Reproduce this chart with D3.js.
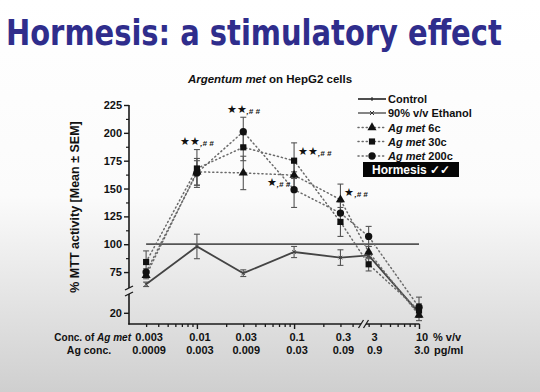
<!DOCTYPE html>
<html><head><meta charset="utf-8">
<script src="https://cdn.jsdelivr.net/npm/d3@7"></script>
<style>html,body{margin:0;padding:0;background:#fff}svg{display:block}</style>
</head><body>
<svg id="c" width="540" height="392"></svg>
<script>
// ---- data ----
const concAgMet = [0.003, 0.01, 0.03, 0.1, 0.3, 3, 10];
const concLabels1 = ["0.003", "0.01", "0.03", "0.1", "0.3", "3", "10"];
const concLabels2 = ["0.0009", "0.003", "0.009", "0.03", "0.09", "0.9", "3.0"];
const controlValues = [100, 100, 100, 100, 100, 100, 100];
const ethanolValues = [64, 98, 74, 93, 88, 90, 20];
const ethanolErr = [2, 11, 3, 5, 7, 3, 3];
const met6cValues = [72, 165, 164, 162, 140, 93, 18];
const met6cErr = [3, 12, 15, 12, 14, 5, 5];
const met30cValues = [84, 168, 187, 175, 120, 82, 22];
const met30cErr = [10, 17, 12, 16, 13, 6, 6];
const met200cValues = [75, 164, 201, 149, 128, 107, 25];
const met200cErr = [3, 11, 13, 16, 10, 9, 9];
const yTickValues = [20, 75, 100, 125, 150, 175, 200, 225];
const yMinorValues = [87.5, 112.5, 137.5, 162.5, 187.5, 212.5];
const sigConc = [0.01, 0.03, 0.1, 0.1, 0.3];
const sigLevel = [193, 221, 156, 184, 147];
const sigStars = ["★★", "★★", "★", "★★", "★"];
const sigSide = ["middle", "middle", "end", "start", "start"];

const svg = d3.select("#c");
const FONT = "'Liberation Sans', Arial, sans-serif";

// background
const defs = svg.append("defs");
const g0 = defs.append("linearGradient").attr("id", "bg").attr("x1", 0).attr("y1", 0).attr("x2", 0).attr("y2", 1);
g0.append("stop").attr("offset", "0").attr("stop-color", "#ffffff");
g0.append("stop").attr("offset", "0.5").attr("stop-color", "#fbfbfb");
g0.append("stop").attr("offset", "1").attr("stop-color", "#cfcfcf");
svg.append("rect").attr("width", 540).attr("height", 392).attr("fill", "url(#bg)");

// title (horizontally condensed to fit the reference width)
const titleG = svg.append("g");
const title = titleG.append("text").attr("x", 0).attr("y", 0)
  .attr("font-family", "'DejaVu Sans', Verdana, sans-serif").attr("font-weight", "bold")
  .attr("font-size", 36).attr("fill", "#2f2d8c")
  .text("Hormesis: a stimulatory effect");
const tw = title.node().getComputedTextLength();
titleG.attr("transform", `translate(6,45) scale(${496 / tw},1)`);

// chart title
const ct = svg.append("text").attr("x", 270).attr("y", 83).attr("text-anchor", "middle")
  .attr("font-family", FONT).attr("font-weight", "bold").attr("font-size", 11.5).attr("fill", "#111");
ct.append("tspan").attr("font-style", "italic").text("Argentum met");
ct.append("tspan").text(" on HepG2 cells");

// scales
const x = d3.scaleLog().domain([0.002, 0.5, 2.75, 10]).range([129, 362, 365, 419]);
const y = d3.scaleLinear().domain([10, 35, 58, 225]).range([324, 296, 291, 105]);

const axisColor = "#1a1a1a";
// y axis
const yAx = svg.append("g").attr("transform", "translate(129,0)")
  .call(d3.axisLeft(y).tickValues(yTickValues).tickSize(5).tickSizeOuter(0).tickFormat(d3.format("d")));
yAx.select(".domain").remove();
yAx.selectAll(".tick line").attr("stroke", axisColor).attr("stroke-width", 1.4);
yAx.selectAll(".tick text").attr("font-family", FONT).attr("font-weight", "bold").attr("font-size", 11).attr("fill", "#111").attr("x", -7);
const yMin = svg.append("g").attr("transform", "translate(129,0)")
  .call(d3.axisLeft(y).tickValues(yMinorValues).tickSize(3).tickFormat(""));
yMin.select(".domain").remove();
yMin.selectAll(".tick line").attr("stroke", axisColor).attr("stroke-width", 1.2);
svg.append("line").attr("x1", 129).attr("x2", 129).attr("y1", y(225)).attr("y2", 288).attr("stroke", axisColor).attr("stroke-width", 1.6);
svg.append("line").attr("x1", 129).attr("x2", 129).attr("y1", 294).attr("y2", 324.5).attr("stroke", axisColor).attr("stroke-width", 1.6);
[288, 294].forEach(v => svg.append("line").attr("x1", 125).attr("x2", 133).attr("y1", v + 2).attr("y2", v - 2).attr("stroke", axisColor).attr("stroke-width", 1.3));

// x axis
const xMajor = [0.01, 0.1, 10];
const xMinor = [];
[0.001, 0.01, 0.1].forEach(d => d3.range(2, 10).forEach(k => { const v = d * k; if (v > 0.0021 && v < 0.5) xMinor.push(v); }));
d3.range(3, 10).forEach(k => xMinor.push(k));
const xa1 = svg.append("g").attr("transform", "translate(0,324)")
  .call(d3.axisBottom(x).tickValues(xMinor).tickSize(3).tickFormat(""));
xa1.select(".domain").remove();
xa1.selectAll(".tick line").attr("stroke", axisColor).attr("stroke-width", 1.3);
const xa2 = svg.append("g").attr("transform", "translate(0,324)")
  .call(d3.axisBottom(x).tickValues(xMajor).tickSize(5).tickFormat(""));
xa2.select(".domain").remove();
xa2.selectAll(".tick line").attr("stroke", axisColor).attr("stroke-width", 1.4);
svg.append("line").attr("x1", 128.2).attr("x2", 361).attr("y1", 324).attr("y2", 324).attr("stroke", axisColor).attr("stroke-width", 1.6);
svg.append("line").attr("x1", 366).attr("x2", 419.5).attr("y1", 324).attr("y2", 324).attr("stroke", axisColor).attr("stroke-width", 1.6);
[361, 366].forEach(v => svg.append("line").attr("x1", v - 2.5).attr("x2", v + 2.5).attr("y1", 328).attr("y2", 320).attr("stroke", axisColor).attr("stroke-width", 1.3));

// x tick labels (two rows)
const lab = svg.append("g").attr("font-family", FONT).attr("font-weight", "bold").attr("font-size", 11).attr("fill", "#111");
concAgMet.forEach((c, i) => {
  const off = c === 3 ? 6 : 3;
  lab.append("text").attr("x", x(c) + off).attr("y", 341).attr("text-anchor", "middle").text(concLabels1[i]);
  lab.append("text").attr("x", x(c) + off).attr("y", 353.5).attr("text-anchor", "middle").text(concLabels2[i]);
});
const r1 = lab.append("text").attr("x", 131).attr("y", 341).attr("text-anchor", "end").attr("font-size", 10);
r1.append("tspan").text("Conc. of ");
r1.append("tspan").attr("font-style", "italic").text("Ag met");
lab.append("text").attr("x", 89).attr("y", 353.5).attr("text-anchor", "middle").attr("font-size", 10.5).text("Ag conc.");
lab.append("text").attr("x", 433).attr("y", 341).text("% v/v");
lab.append("text").attr("x", 434).attr("y", 353.5).text("pg/ml");

// y label
svg.append("text").attr("transform", "translate(79,207) rotate(-90)").attr("text-anchor", "middle")
  .attr("font-family", FONT).attr("font-weight", "bold").attr("font-size", 12.5).attr("fill", "#111")
  .text("% MTT activity [Mean ± SEM]");

// series
const series = [
  {name: "6c", vals: met6cValues, err: met6cErr, sym: d3.symbolTriangle, size: 36},
  {name: "30c", vals: met30cValues, err: met30cErr, sym: d3.symbolSquare, size: 38},
  {name: "200c", vals: met200cValues, err: met200cErr, sym: d3.symbolCircle, size: 42}
];
const plot = svg.append("g");
const errCol = "#555";
function errorBars(vals, err) {
  vals.forEach((v, i) => {
    const cx = x(concAgMet[i]), y1 = y(v - err[i]), y2 = y(v + err[i]);
    plot.append("line").attr("x1", cx).attr("x2", cx).attr("y1", y1).attr("y2", y2).attr("stroke", errCol).attr("stroke-width", 1.1);
    [y1, y2].forEach(yy => plot.append("line").attr("x1", cx - 3).attr("x2", cx + 3).attr("y1", yy).attr("y2", yy).attr("stroke", errCol).attr("stroke-width", 1.1));
  });
}
series.forEach(s => errorBars(s.vals, s.err));
errorBars(ethanolValues, ethanolErr);

const line = d3.line().x((d, i) => x(concAgMet[i])).y(d => y(d));
const dotted = "1.1,3";
// control
plot.append("path").datum(controlValues).attr("d", line).attr("fill", "none").attr("stroke", "#555").attr("stroke-width", 1.8);
// ethanol
plot.append("path").datum(ethanolValues).attr("d", line).attr("fill", "none").attr("stroke", "#444").attr("stroke-width", 1.8);
ethanolValues.forEach((v, i) => plot.append("path").attr("d", d3.symbol(d3.symbolX, 10)())
  .attr("transform", `translate(${x(concAgMet[i])},${y(v)})`).attr("stroke", "#444").attr("stroke-width", 1).attr("fill", "none"));
series.forEach(s => {
  plot.append("path").datum(s.vals).attr("d", line).attr("fill", "none").attr("stroke", "#6a6a6a")
    .attr("stroke-width", 1.5).attr("stroke-dasharray", dotted).attr("stroke-linecap", "round");
});
series.forEach(s => {
  s.vals.forEach((v, i) => plot.append("path").attr("d", d3.symbol(s.sym, s.size)())
    .attr("transform", `translate(${x(concAgMet[i])},${y(v)})`).attr("fill", "#111"));
});

// significance annotations
const ann = svg.append("g").attr("font-family", FONT).attr("fill", "#111");
sigConc.forEach((c, i) => {
  const dx = sigSide[i] === "end" ? -4 : sigSide[i] === "start" ? 4 : 0;
  const t = ann.append("text").attr("x", x(c) + dx).attr("y", y(sigLevel[i]) + 4).attr("text-anchor", sigSide[i]);
  t.append("tspan").attr("font-size", 11).text(sigStars[i]);
  t.append("tspan").attr("font-size", 8).attr("font-style", "italic").attr("font-weight", "bold").attr("dy", 1).text(",# #");
});

// legend
const leg = svg.append("g").attr("font-family", FONT).attr("font-weight", "bold").attr("font-size", 11).attr("fill", "#111");
const legRows = [99, 113, 127.5, 141.5, 156];
const legNames = ["Control", "90% v/v Ethanol", "6c", "30c", "200c"];
legNames.forEach((n, i) => {
  const yy = legRows[i];
  if (i < 2) {
    leg.append("line").attr("x1", 358).attr("x2", 386).attr("y1", yy).attr("y2", yy).attr("stroke", i === 0 ? "#222" : "#666").attr("stroke-width", 1.6);
    if (i === 0) leg.append("line").attr("x1", 372).attr("x2", 372).attr("y1", yy - 2).attr("y2", yy + 2).attr("stroke", "#222");
    else leg.append("path").attr("d", d3.symbol(d3.symbolX, 12)()).attr("transform", `translate(372,${yy})`).attr("stroke", "#333").attr("fill", "none");
    leg.append("text").attr("x", 388).attr("y", yy + 4).text(n);
  } else {
    const s = series[i - 2];
    leg.append("line").attr("x1", 358).attr("x2", 386).attr("y1", yy).attr("y2", yy).attr("stroke", "#6a6a6a")
      .attr("stroke-width", 1.5).attr("stroke-dasharray", dotted).attr("stroke-linecap", "round");
    leg.append("path").attr("d", d3.symbol(s.sym, s.size)()).attr("transform", `translate(372,${yy})`).attr("fill", "#111");
    const t = leg.append("text").attr("x", 388).attr("y", yy + 4);
    t.append("tspan").attr("font-style", "italic").text("Ag met");
    t.append("tspan").text(" " + n);
  }
});
leg.append("rect").attr("x", 363).attr("y", 162).attr("width", 96).attr("height", 15).attr("fill", "#050505");
leg.append("text").attr("x", 411).attr("y", 173.5).attr("text-anchor", "middle").attr("fill", "#fff").attr("font-size", 12)
  .text("Hormesis ✓✓");
</script>
</body></html>
